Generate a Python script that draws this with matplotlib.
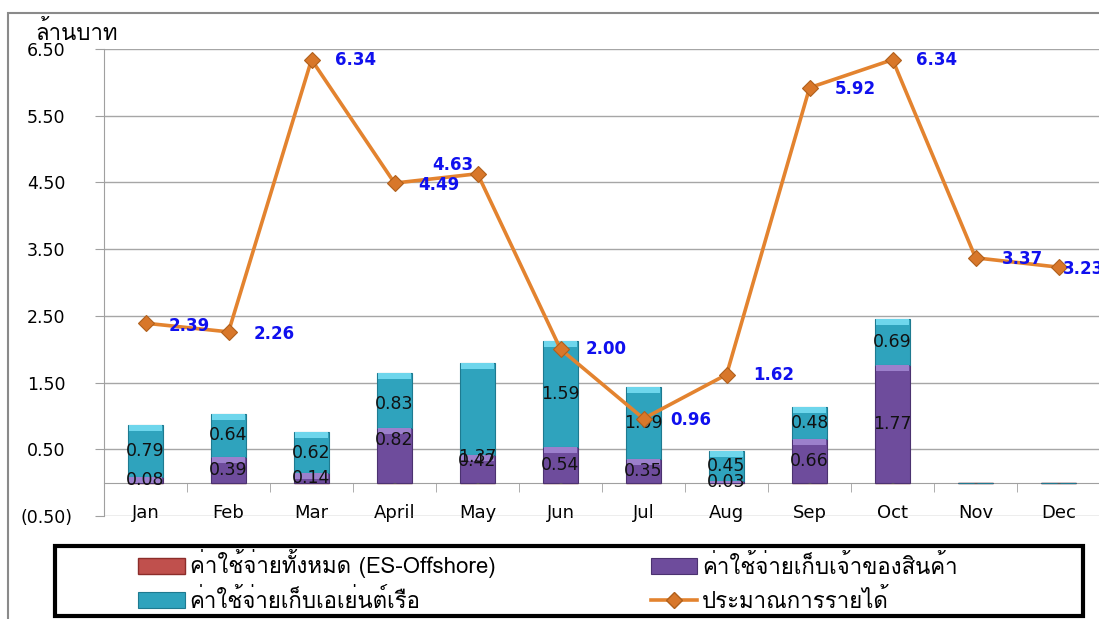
import numpy as np
import matplotlib
matplotlib.use("Agg")
import matplotlib.pyplot as plt
from matplotlib import font_manager
from matplotlib.ft2font import FT2Font
from matplotlib.patches import Rectangle
from matplotlib.lines import Line2D

# หา font ที่มีอักษรไทย
thai_font = None
for f in font_manager.fontManager.ttflist:
    try:
        if 0x0E01 in FT2Font(f.fname).get_charmap():
            thai_font = f.name
            break
    except Exception:
        pass
thai_family = [thai_font, "DejaVu Sans"] if thai_font else ["DejaVu Sans"]

# data
months = ["Jan", "Feb", "Mar", "April", "May", "Jun", "Jul", "Aug", "Sep", "Oct", "Nov", "Dec"]
es_offshore = [0, 0, 0, 0, 0, 0, 0, 0, 0, 0, 0, 0]
owner_cost = [0.08, 0.39, 0.14, 0.82, 0.42, 0.54, 0.35, 0.03, 0.66, 1.77, 0, 0]
agent_cost = [0.79, 0.64, 0.62, 0.83, 1.37, 1.59, 1.09, 0.45, 0.48, 0.69, 0, 0]
income_est = [2.39, 2.26, 6.34, 4.49, 4.63, 2.00, 0.96, 1.62, 5.92, 6.34, 3.37, 3.23]

series_names = ["ค่าใช้จ่ายทั้งหมด (ES-Offshore)", "ค่าใช้จ่ายเก็บเจ้าของสินค้า",
                "ค่าใช้จ่ายเก็บเอเย่นต์เรือ", "ประมาณการรายได้"]

# label offsets (points) for the income labels
label_dx = [17, 18, 17, 17, -3, 18, 19, 19, 18, 17, 19, 3]
label_dy = [-2, -1.5, 0, -1.5, 6.5, 0, -1, 0, -1, 0, -0.5, -1]

W, H = 1099, 619
fig = plt.figure(figsize=(W / 100, H / 100), dpi=100)
ax = fig.add_axes([104 / W, 1 - 516 / H, (W - 104) / W + 0.001, (516 - 49) / H])
ax.spines["bottom"].set_position(("data", 0))

x = np.arange(len(months))
bw = 0.42
owner = np.array(owner_cost)
agent = np.array(agent_cost)

red_bars = ax.bar(x, es_offshore, bw, color="#C0504D", edgecolor="#8C2D2A", zorder=3)
p_bars = ax.bar(x, owner, bw, color="#6E4C9C", edgecolor="#4B3270", lw=0.8, zorder=3)
t_bars = ax.bar(x, agent, bw, bottom=owner, color="#2FA3BD", edgecolor="#1E7A90", lw=0.8, zorder=3)

# light bevel on top of each segment
cap = 0.09
for vals, base, col in [(owner, np.zeros(12), "#9C80CC"), (agent, owner, "#6ED6EC")]:
    mask = vals > 0
    ch = np.minimum(cap, vals)
    ax.bar(x[mask], ch[mask], bw * 0.96, bottom=(base + vals - ch)[mask], color=col, lw=0, zorder=4)

# bar value labels
p_lab_y = owner / 2
t_lab_y = owner + agent / 2
p_lab_y[3] = 0.64
t_lab_y[3] = 1.18
p_lab_y[4] = 0.32
t_lab_y[4] = 0.38
for i in range(len(months)):
    if owner[i] > 0:
        ax.text(x[i], p_lab_y[i], f"{owner[i]:.2f}", ha="center", va="center",
                fontsize=12.5, color="#111111", zorder=6)
    if agent[i] > 0:
        ax.text(x[i], t_lab_y[i], f"{agent[i]:.2f}", ha="center", va="center",
                fontsize=12.5, color="#111111", zorder=6)
# zero labels of ES-Offshore ("-"), hidden where the owner label sits on it
for i in range(len(months)):
    if owner[i] == 0 or p_lab_y[i] > 0.2:
        ax.text(x[i], es_offshore[i], "-", ha="center", va="center", fontsize=8,
                color="#555555", zorder=6)

# income line
ax.plot(x, income_est, color="#E3832F", lw=2.6, marker="D", ms=8,
        mfc="#D8772A", mec="#B0601C", mew=0.8, zorder=7)
for i, v in enumerate(income_est):
    ax.annotate(f"{v:.2f}", (x[i], v), xytext=(label_dx[i], label_dy[i]),
                textcoords="offset points", ha="right" if label_dx[i] < 0 else "left",
                va="center", fontsize=12, fontweight="bold", color="#1010EE",
                zorder=8, annotation_clip=False)

# axes
ax.set_xlim(-0.5, 11.5)
ax.set_ylim(-0.5, 6.5)
yt = np.arange(-0.5, 6.51, 1.0)
ax.set_yticks(yt)
ax.set_yticklabels([f"({abs(t):.2f})" if t < 0 else f"{t:.2f}" for t in yt])
for lab in ax.get_yticklabels():
    lab.set_horizontalalignment("center")
ax.tick_params(axis="y", direction="out", length=6.5, color="#A0A0A0", pad=35, labelsize=12.5)
ax.yaxis.grid(True, color="#A6A6A6", lw=1, zorder=0)

ax.set_xticks(x)
ax.set_xticklabels(months)
ax.set_xticks(np.arange(-0.5, 11.6, 1.0), minor=True)
ax.tick_params(axis="x", which="major", length=0, pad=15.5, labelsize=13)
ax.tick_params(axis="x", which="minor", direction="out", length=6.5, color="#A0A0A0")
ax.spines["bottom"].set_color("#A0A0A0")
ax.spines["left"].set_color("#A0A0A0")
ax.spines["top"].set_visible(False)
ax.spines["right"].set_visible(False)
ax.set_axisbelow(True)

fig.text(35 / W, 1 - 33 / H, "ล้านบาท", family=thai_family, fontsize=16, va="center", ha="left")

# outer chart border
fig.patches.append(Rectangle((8 / W, -0.1), 1.2, 1 - 13 / H + 0.1, transform=fig.transFigure,
                             fill=False, ec="#8A8A8A", lw=1.5))

# legend
handles = [red_bars, p_bars, t_bars,
           Line2D([], [], color="#E3832F", lw=2.6, marker="D", ms=8, mfc="#D8772A", mec="#B0601C")]
leg = fig.legend([handles[0], handles[2], handles[1], handles[3]],
                 [series_names[0], series_names[2], series_names[1], series_names[3]],
                 ncol=2, mode="expand", loc="center",
                 bbox_to_anchor=(134 / W, 1 - 616 / H, (962 - 134) / W, (616 - 546) / H),
                 frameon=False, prop={"family": thai_family, "size": 16},
                 handlelength=2.1, handleheight=0.7, handletextpad=0.2,
                 labelspacing=0.45, borderaxespad=0, borderpad=0.2)
fig.patches.append(Rectangle((55 / W, 1 - 616 / H), (1083 - 55) / W, (616 - 546) / H,
                             transform=fig.transFigure, fill=False, ec="black", lw=3))

fig.savefig("out.png", dpi=100)
